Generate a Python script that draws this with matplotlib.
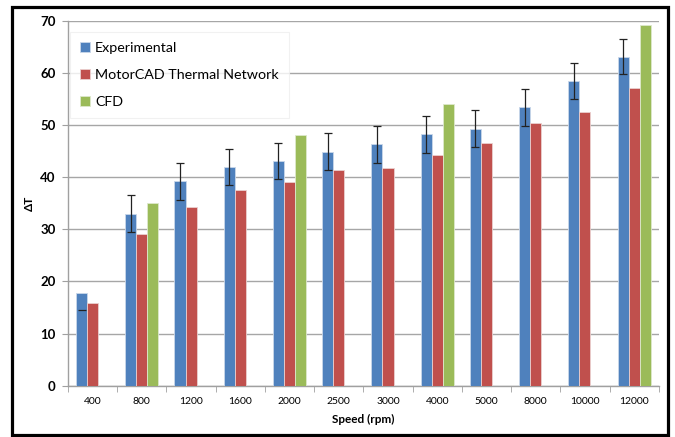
import matplotlib
matplotlib.use("Agg")
import matplotlib.pyplot as plt
from matplotlib.patches import Rectangle
import numpy as np

plt.rcParams['font.family'] = ['Lato', 'DejaVu Sans']

speeds = ['400', '800', '1200', '1600', '2000', '2500', '3000',
          '4000', '5000', '8000', '10000', '12000']
experimental = [17.8, 33.0, 39.2, 41.9, 43.1, 44.9, 46.3, 48.2, 49.3, 53.4, 58.5, 63.1]
exp_err = [3.3, 3.5, 3.5, 3.5, 3.45, 3.5, 3.5, 3.55, 3.5, 3.5, 3.45, 3.4]
motorcad = [15.9, 29.0, 34.2, 37.5, 39.1, 41.4, 41.8, 44.2, 46.5, 50.4, 52.4, 57.1]
cfd = [np.nan, 35.1, np.nan, np.nan, 48.0, np.nan, np.nan, 54.1, np.nan, np.nan, np.nan, 69.2]

blue = '#4F81BD'
red = '#C0504D'
green = '#9BBB59'

fig = plt.figure(figsize=(6.75, 4.37), dpi=100)
ax = fig.add_axes([0.1007, 0.1174, 0.8753, 0.8352])

x = np.arange(len(speeds))
w = 0.225
ax.bar(x - w, experimental, w, color=blue, edgecolor='#c9d7ea', linewidth=0.6,
       label='Experimental', zorder=3)
ax.bar(x, motorcad, w, color=red, edgecolor='#ead0cf', linewidth=0.6,
       label='MotorCAD Thermal Network', zorder=3)
ax.bar(x + w, cfd, w, color=green, edgecolor='#dde8cc', linewidth=0.6,
       label='CFD', zorder=3)

# error bars on the measured values (the first one only shows its lower cap)
ax.errorbar(x[1:] - w, experimental[1:], yerr=exp_err[1:], fmt='none',
            ecolor='#222222', elinewidth=0.9, capsize=3, capthick=0.9, zorder=4)
ax.plot([x[0] - w], [experimental[0] - exp_err[0]], marker='_', markersize=6,
        color='#222222', mew=0.9, zorder=4)

ax.set_xlim(-0.5, len(speeds) - 0.5)
ax.set_ylim(0, 70)
ax.set_yticks(range(0, 71, 10))
ax.set_xticks(x)
ax.set_xticklabels(speeds, fontsize=7.5)
ax.set_xticks(np.arange(-0.5, len(speeds)), minor=True)
ax.tick_params(axis='x', which='major', length=0, pad=8)
ax.tick_params(axis='x', which='minor', length=4, color='#a0a0a0', direction='out')
ax.tick_params(axis='y', length=4, color='#a0a0a0', labelsize=9.5, pad=5)
for lbl in ax.get_yticklabels():
    lbl.set_fontweight('bold')

ax.grid(axis='y', color='#a6a6a6', linewidth=1.0, zorder=0)
for side in ['top', 'right']:
    ax.spines[side].set_visible(False)
for side in ['left', 'bottom']:
    ax.spines[side].set_color('#a0a0a0')
    ax.spines[side].set_linewidth(1.0)

ax.set_xlabel('Speed (rpm)', fontsize=8.5, fontweight='bold', labelpad=6)
ax.set_ylabel('ΔT', fontsize=8.5, fontweight='bold', labelpad=4)

leg = ax.legend(loc='upper left', bbox_to_anchor=(0.003, 0.969), fontsize=10.3,
                frameon=True, fancybox=False, edgecolor='#eeeeee',
                borderaxespad=0,
                handlelength=0.72, handleheight=0.72, handletextpad=0.35,
                labelspacing=1.05, borderpad=0.7)
leg.get_frame().set_linewidth(0.8)

# black frame round the whole figure
fig.patches.append(Rectangle((12 / 675, 2 / 437), 656 / 675, 428 / 437,
                             transform=fig.transFigure, fill=False,
                             edgecolor='black', linewidth=2.3))

fig.savefig('out.png', dpi=100)
